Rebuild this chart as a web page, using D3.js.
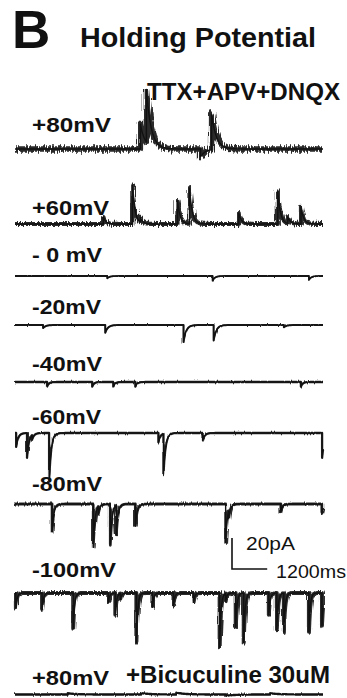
<!DOCTYPE html>
<html>
<head>
<meta charset="utf-8">
<script src="https://cdn.jsdelivr.net/npm/d3@7"></script>
<style>
  html, body { margin: 0; padding: 0; background: #fff; overflow: hidden; }
  svg { display: block; }
  text { font-family: "Liberation Sans", Arial, sans-serif; fill: #111; }
</style>
</head>
<body>
<svg id="fig" width="347" height="698" viewBox="0 0 347 698"></svg>
<script>
// ---- data ----
const timeDomainMs = [0, 10500];
const holdingLabels = ["+80mV", "+60mV", "- 0 mV", "-20mV", "-40mV", "-60mV", "-80mV", "-100mV", "+80mV"];

// synaptic events per trace: [time ms, amplitude pA]
const eventsPlus80 = [[4275, 16], [4480, 34], [6327, -5], [6703, 23]];
const eventsPlus60 = [[3010, 4.5], [4000, 25], [4275, 3], [5540, 15], [5950, 23], [7630, 7], [8960, 21], [9300, 4], [9750, 11]];
const eventsZero = [[3146, -1.5], [6737, -3], [10020, -2.5]];
const eventsMinus20 = [[958, -2], [3078, -5], [5746, -11], [6772, -10], [9166, -1.5]];
const eventsMinus40 = [[1094, -3], [2633, -3], [3352, -3], [4104, -3], [9747, -3]];
const eventsMinus60 = [[40, -9], [410, -16], [581, -3], [1163, -31], [4890, -6], [5062, -26], [6395, -5], [10470, -16]];
const eventsMinus80 = [[1265, -18], [2668, -28], [2839, -5], [3249, -26], [3454, -19], [4104, -14], [7182, -25], [7285, -5], [9063, -5], [10460, -6]];
const eventsMinus100 = [[30, -10], [923, -11], [1984, -23], [3181, -6], [3420, -14], [3591, -4], [4138, -32], [4685, -9], [5404, -8], [6088, -6],
  [6977, -35], [7182, -5], [7524, -22], [7798, -32], [8653, -14], [8926, -24], [9166, -25], [10020, -25], [10465, -21]];
const eventsBicuculine = [[1800, 0.8], [4300, 0.9], [5500, 1.1], [7200, -0.8], [8700, 0.8]];

// decay time constant of events per trace (ms)
const decayMs = [160, 90, 80, 90, 60, 70, 60, 45, 300];

const scaleBarPA = 20;
const scaleBarMs = 1200;

// ---- layout ----
const traceEvents = [eventsPlus80, eventsPlus60, eventsZero, eventsMinus20, eventsMinus40,
  eventsMinus60, eventsMinus80, eventsMinus100, eventsBicuculine];
const traceY = [149, 224, 276, 325, 382, 433, 504, 593, 694.5];
const labelY = [132, 215, 262, 314, 371, 424, 491, 577, 685];
const labelW = [79, 77, 70, 69, 70, 69, 70, 84, 77];
const noiseScale = [9, 7, 2.5, 2.5, 3, 3, 4, 5, 3];
const bandW = [5.5, 4.2, 1.8, 2.0, 2.3, 2.3, 2.8, 4.0, 2.4];

const svg = d3.select("#fig");

const x = d3.scaleLinear().domain(timeDomainMs).range([15, 323]);
const amp = d3.scaleLinear().domain([0, scaleBarPA]).range([0, -31]);

// one noise filter per trace
const defs = svg.append("defs");
noiseScale.forEach((s, i) => {
  const f = defs.append("filter")
    .attr("id", "noise" + i)
    .attr("filterUnits", "userSpaceOnUse")
    .attr("x", 0).attr("y", -60).attr("width", 347).attr("height", 120);
  f.append("feTurbulence")
    .attr("type", "fractalNoise")
    .attr("baseFrequency", "0.7 0.04")
    .attr("numOctaves", 2)
    .attr("seed", i + 2)
    .attr("result", "t");
  f.append("feDisplacementMap")
    .attr("in", "SourceGraphic").attr("in2", "t")
    .attr("scale", s)
    .attr("xChannelSelector", "R").attr("yChannelSelector", "G");
});

function sampleTrace(events, tau) {
  let ts = d3.range(timeDomainMs[0], timeDomainMs[1] + 1, 15);
  events.forEach(([t]) => ts.push(t - 1, t, t + 5));
  ts = Array.from(new Set(ts)).filter(s => s >= timeDomainMs[0] && s <= timeDomainMs[1]).sort((a, b) => a - b);
  return ts.map(s => [s, d3.sum(events, ([t, a]) => s >= t ? a * Math.exp(-(s - t) / tau) : 0)]);
}

const line = d3.line().x(d => x(d[0])).y(d => amp(d[1]));

// traces first, labels on top
const traceLayer = svg.append("g").attr("class", "traces");
const labelLayer = svg.append("g").attr("class", "labels");

traceEvents.forEach((ev, i) => {
  const g = traceLayer.append("g").attr("transform", `translate(0,${traceY[i]})`);
  const d = line(sampleTrace(ev, decayMs[i]));
  g.append("path")
    .attr("d", d)
    .attr("fill", "none")
    .attr("stroke", "#2a2a2a")
    .attr("stroke-width", bandW[i])
    .attr("stroke-linejoin", "round")
    .attr("filter", `url(#noise${i})`);
  g.append("path")
    .attr("d", d)
    .attr("fill", "none")
    .attr("stroke", "#111")
    .attr("stroke-width", 1.4)
    .attr("stroke-linejoin", "round");

  labelLayer.append("text")
    .attr("x", 32).attr("y", labelY[i])
    .attr("font-size", 21).attr("font-weight", "bold")
    .attr("textLength", labelW[i]).attr("lengthAdjust", "spacingAndGlyphs")
    .text(holdingLabels[i]);
});

// titles
labelLayer.append("text").attr("x", 12).attr("y", 48)
  .attr("font-size", 53).attr("font-weight", "bold").text("B");
labelLayer.append("text").attr("x", 80).attr("y", 47)
  .attr("font-size", 27).attr("font-weight", "bold")
  .attr("textLength", 236).attr("lengthAdjust", "spacingAndGlyphs")
  .text("Holding Potential");
labelLayer.append("text").attr("x", 147).attr("y", 100)
  .attr("font-size", 24).attr("font-weight", "bold")
  .attr("textLength", 193).attr("lengthAdjust", "spacingAndGlyphs")
  .text("TTX+APV+DNQX");
labelLayer.append("text").attr("x", 126).attr("y", 683)
  .attr("font-size", 23).attr("font-weight", "bold")
  .attr("textLength", 204).attr("lengthAdjust", "spacingAndGlyphs")
  .text("+Bicuculine 30uM");

// scale bar
const sb = { x: 232, y: 569 };
const sbLen = x(scaleBarMs) - x(0);
const sbH = -amp(scaleBarPA);
svg.append("path")
  .attr("d", `M${sb.x},${sb.y - sbH}V${sb.y}H${sb.x + sbLen}`)
  .attr("fill", "none").attr("stroke", "#111").attr("stroke-width", 1.6);
labelLayer.append("text").attr("x", 246).attr("y", 550)
  .attr("font-size", 18)
  .attr("textLength", 49).attr("lengthAdjust", "spacingAndGlyphs")
  .text(scaleBarPA + "pA");
labelLayer.append("text").attr("x", 276).attr("y", 578)
  .attr("font-size", 18)
  .attr("textLength", 70).attr("lengthAdjust", "spacingAndGlyphs")
  .text(scaleBarMs + "ms");
</script>
</body>
</html>
